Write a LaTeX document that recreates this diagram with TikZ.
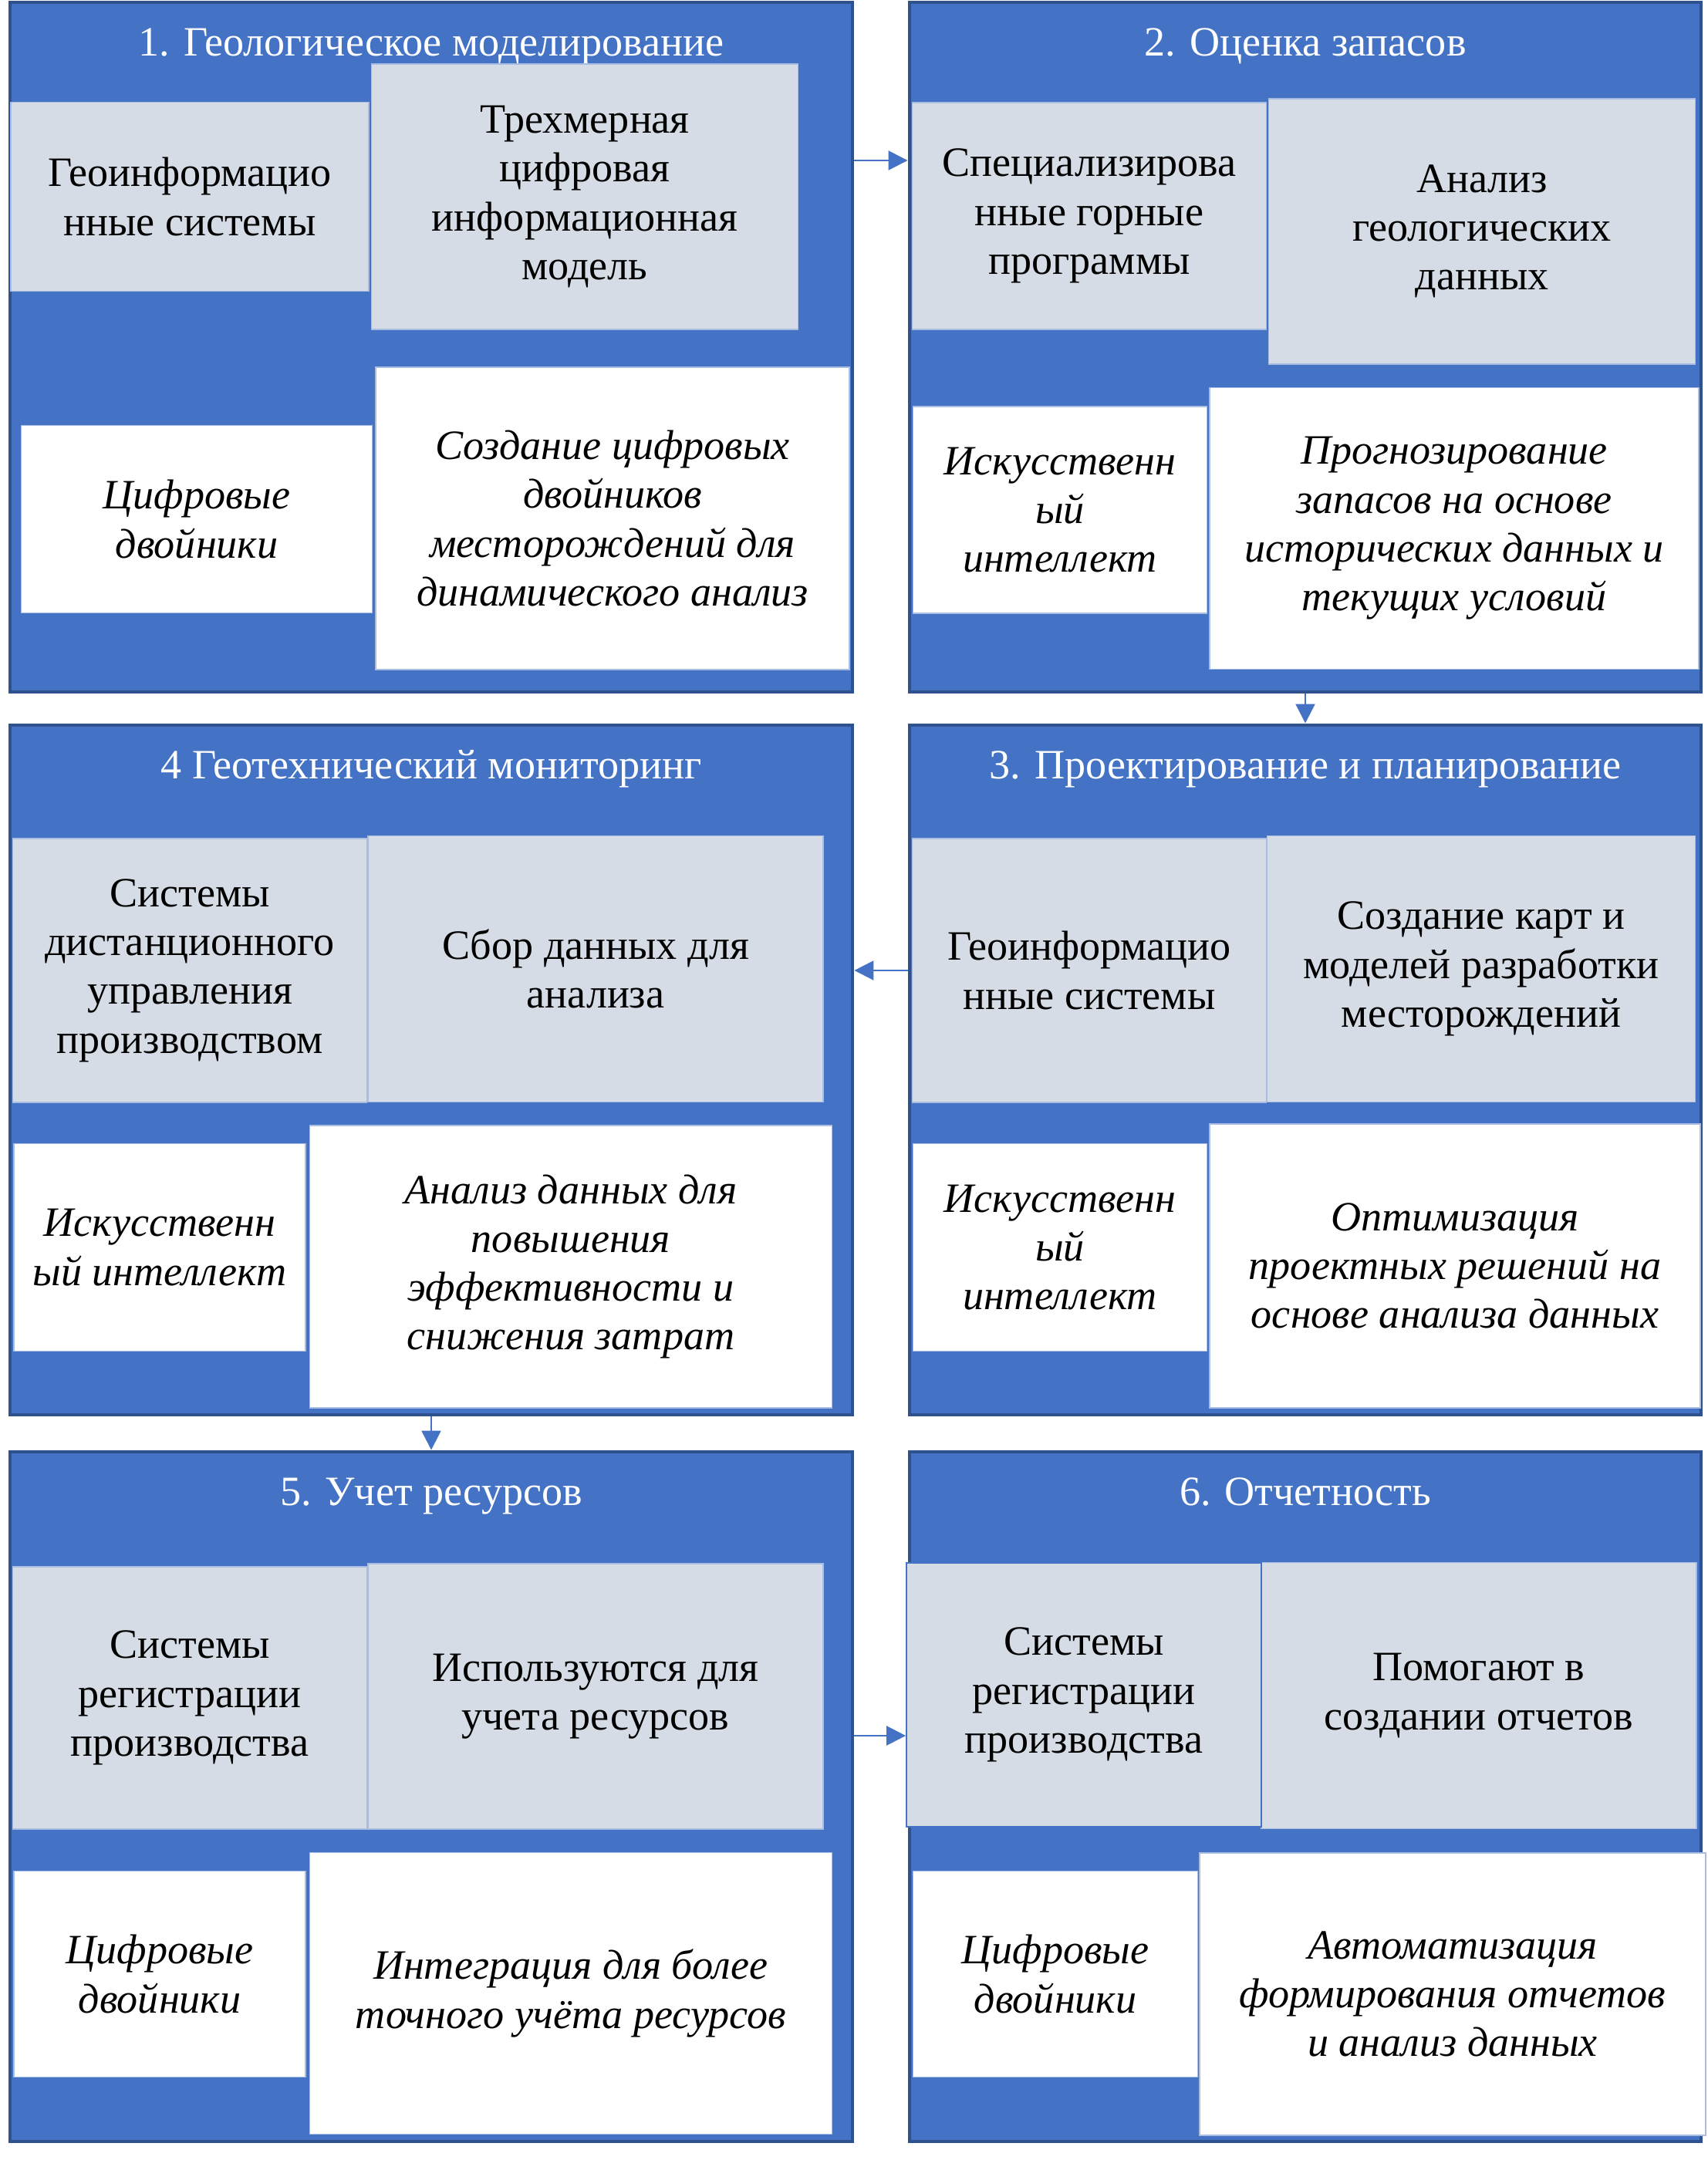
\documentclass[tikz,border=0pt]{standalone}
\usepackage{fontspec}
\setmainfont{Liberation Serif}[ItalicFont={Liberation Serif Italic}]
\usetikzlibrary{arrows.meta,positioning}
\definecolor{panelblue}{HTML}{4472C4}
\definecolor{paneledge}{HTML}{2F528F}
\definecolor{cellgray}{HTML}{D6DCE5}
\definecolor{celledge}{HTML}{A9BDE3}
\newcommand{\cellfont}{\fontsize{15.4}{18}\selectfont}
\tikzset{
  panel/.style={draw=paneledge, line width=1.4pt, fill=panelblue, minimum width=#1, minimum height=8.94cm, inner sep=0pt},
  ttl/.style={text=white, font=\cellfont, anchor=base, inner sep=0pt},
  graycell/.style 2 args={draw=celledge, line width=0.5pt, fill=cellgray, minimum width=#1, minimum height=#2, inner sep=2pt, align=center, font=\cellfont},
  whitecell/.style 2 args={draw=celledge, line width=0.5pt, fill=white, minimum width=#1, minimum height=#2, inner sep=2pt, align=center, font=\cellfont\itshape},
  arr/.style={draw=panelblue, line width=0.7pt, -{Triangle[length=0.25cm, width=0.25cm]}, fill=panelblue}
}

\begin{document}
\begin{tikzpicture}
\useasboundingbox (0,0) rectangle (22.13,28);

%%%%%
%% panels
%%%%%
\node[panel=10.92cm] (p1) at (5.59,23.50) {};
\node[panel=10.26cm] (p2) at (16.92,23.50) {};
\node[panel=10.92cm] (p4) at (5.59,14.13) {};
\node[panel=10.26cm] (p3) at (16.92,14.13) {};
\node[panel=10.92cm] (p5) at (5.59,4.71) {};
\node[panel=10.26cm] (p6) at (16.92,4.71) {};

%%%%%
%% 1. geology
%%%%%
\node[ttl] (t1) at ([yshift=-0.72cm]p1.north) {1. Геологическое моделирование};
\node[graycell={4.64cm}{2.45cm}] (g1a) at (2.46,25.45) {Геоинформацио\\нные системы};
\node[graycell={5.53cm}{3.44cm}] (g1b) at (7.58,25.45) {Трехмерная\\цифровая\\информационная\\модель};
\node[whitecell={4.55cm}{2.43cm}] (w1a) at (2.55,21.27) {Цифровые\\двойники};
\node[whitecell={6.14cm}{3.92cm}] (w1b) at (7.94,21.28) {Создание цифровых\\двойников\\месторождений для\\динамического анализ};

%%%%%
%% 2. reserves
%%%%%
\node[ttl] (t2) at ([yshift=-0.72cm]p2.north) {2. Оценка запасов};
\node[graycell={4.59cm}{2.94cm}] (g2a) at (14.12,25.20) {Специализирова\\нные горные\\программы};
\node[graycell={5.53cm}{3.44cm}] (g2b) at (19.21,25.00) {Анализ\\геологических\\данных};
\node[whitecell={3.81cm}{2.68cm}] (w2a) at (13.74,21.39) {Искусственн\\ый\\интеллект};
\node[whitecell={6.34cm}{3.65cm}] (w2b) at (18.85,21.15) {Прогнозирование\\запасов на основе\\исторических данных и\\текущих условий};

%%%%%
%% 3. design
%%%%%
\node[ttl] (t3) at ([yshift=-0.72cm]p3.north) {3. Проектирование и планирование};
\node[graycell={4.59cm}{3.42cm}] (g3a) at (14.12,15.42) {Геоинформацио\\нные системы};
\node[graycell={5.55cm}{3.45cm}] (g3b) at (19.20,15.44) {Создание карт и\\моделей разработки\\месторождений};
\node[whitecell={3.81cm}{2.69cm}] (w3a) at (13.74,11.83) {Искусственн\\ый\\интеллект};
\node[whitecell={6.36cm}{3.68cm}] (w3b) at (18.86,11.59) {Оптимизация\\проектных решений на\\основе анализа данных};

%%%%%
%% 4 monitoring
%%%%%
\node[ttl] (t4) at ([yshift=-0.72cm]p4.north) {4 Геотехнический мониторинг};
\node[graycell={4.59cm}{3.42cm}] (g4a) at (2.46,15.42) {Системы\\дистанционного\\управления\\производством};
\node[graycell={5.90cm}{3.45cm}] (g4b) at (7.72,15.44) {Сбор данных для\\анализа};
\node[whitecell={3.78cm}{2.69cm}] (w4a) at (2.07,11.83) {Искусственн\\ый интеллект};
\node[whitecell={6.77cm}{3.66cm}] (w4b) at (7.40,11.58) {Анализ данных для\\повышения\\эффективности и\\снижения затрат};

%%%%%
%% 5. resources
%%%%%
\node[ttl] (t5) at ([yshift=-0.72cm]p5.north) {5. Учет ресурсов};
\node[graycell={4.59cm}{3.40cm}] (g5a) at (2.46,5.99) {Системы\\регистрации\\производства};
\node[graycell={5.90cm}{3.44cm}] (g5b) at (7.72,6.01) {Используются для\\учета ресурсов};
\node[whitecell={3.78cm}{2.67cm}] (w5a) at (2.07,2.41) {Цифровые\\двойники};
\node[whitecell={6.77cm}{3.65cm}] (w5b) at (7.40,2.16) {Интеграция для более\\точного учёта ресурсов};

%%%%%
%% 6. reports
%%%%%
\node[ttl] (t6) at ([yshift=-0.72cm]p6.north) {6. Отчетность};
\node[graycell={5.64cm}{3.45cm}] (g6b) at (19.17,6.02) {Помогают в\\создании отчетов};
\node[graycell={4.60cm}{3.42cm}, draw=panelblue] (g6a) at (14.05,6.03) {Системы\\регистрации\\производства};
\node[whitecell={3.69cm}{2.67cm}] (w6a) at (13.68,2.41) {Цифровые\\двойники};
\node[whitecell={6.56cm}{3.66cm}] (w6b) at (18.83,2.15) {Автоматизация\\формирования отчетов\\и анализ данных};

%%%%%
%% arrows
%%%%%
\draw[arr] ([yshift=2.42cm]p1.east) -- ([yshift=2.42cm]p2.west);
\draw[arr] (p2.south) -- (p3.north);
\draw[arr] ([yshift=1.29cm]p3.west) -- ([yshift=1.29cm]p4.east);
\draw[arr] (p4.south) -- (p5.north);
\draw[arr] ([yshift=0.79cm]p5.east) -- ([yshift=0.79cm]p5.east -| g6a.west);

\end{tikzpicture}
\end{document}
